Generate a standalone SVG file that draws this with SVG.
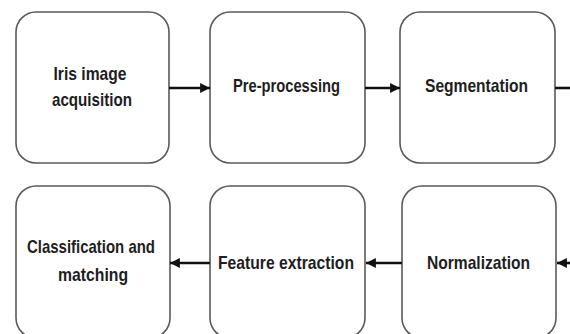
<svg xmlns="http://www.w3.org/2000/svg" width="570" height="334" viewBox="0 0 570 334">
<defs>
<style>
.box{fill:#fff;stroke:#5a5a5a;stroke-width:1.6}
.lbl{font-family:"Liberation Sans",Arial,sans-serif;font-weight:bold;font-size:19px;fill:#1e1e1e;text-anchor:middle}
.con{stroke:#111;stroke-width:2.6;fill:none}
</style>
<marker id="ah" viewBox="0 0 10 10" refX="10" refY="5" markerWidth="4.4" markerHeight="3.8" orient="auto" markerUnits="strokeWidth">
<path d="M0,0 L10,5 L0,10 z" fill="#111"/>
</marker>
</defs>
<rect width="570" height="334" fill="#fff"/>
<g id="n1">
<rect class="box" x="16" y="12" width="153" height="151" rx="20"/>
<text class="lbl" x="90" y="80" textLength="73" lengthAdjust="spacingAndGlyphs">Iris image</text>
<text class="lbl" x="92" y="106" textLength="80" lengthAdjust="spacingAndGlyphs">acquisition</text>
</g>
<g id="n2">
<rect class="box" x="210" y="12" width="155" height="151" rx="20"/>
<text class="lbl" x="286.5" y="92" textLength="107" lengthAdjust="spacingAndGlyphs">Pre-processing</text>
</g>
<g id="n3">
<rect class="box" x="400" y="12" width="155" height="151" rx="20"/>
<text class="lbl" x="476.5" y="92" textLength="103" lengthAdjust="spacingAndGlyphs">Segmentation</text>
</g>
<g id="n4">
<rect class="box" x="16" y="186" width="154" height="152" rx="20"/>
<text class="lbl" x="91" y="253" textLength="128" lengthAdjust="spacingAndGlyphs">Classification and</text>
<text class="lbl" x="93" y="281" textLength="70" lengthAdjust="spacingAndGlyphs">matching</text>
</g>
<g id="n5">
<rect class="box" x="210" y="186" width="155" height="152" rx="20"/>
<text class="lbl" x="286" y="269" textLength="136" lengthAdjust="spacingAndGlyphs">Feature extraction</text>
</g>
<g id="n6">
<rect class="box" x="402" y="186" width="154" height="152" rx="20"/>
<text class="lbl" x="478.5" y="269" textLength="103" lengthAdjust="spacingAndGlyphs">Normalization</text>
</g>
<g id="connectors">
<line class="con" x1="169" y1="88" x2="210" y2="88" marker-end="url(#ah)"/>
<line class="con" x1="365" y1="88" x2="400" y2="88" marker-end="url(#ah)"/>
<line class="con" x1="555" y1="88" x2="570" y2="88"/>
<line class="con" x1="572" y1="263" x2="557" y2="263" marker-end="url(#ah)"/>
<line class="con" x1="402" y1="263" x2="366" y2="263" marker-end="url(#ah)"/>
<line class="con" x1="210" y1="263" x2="170" y2="263" marker-end="url(#ah)"/>
</g>
</svg>
